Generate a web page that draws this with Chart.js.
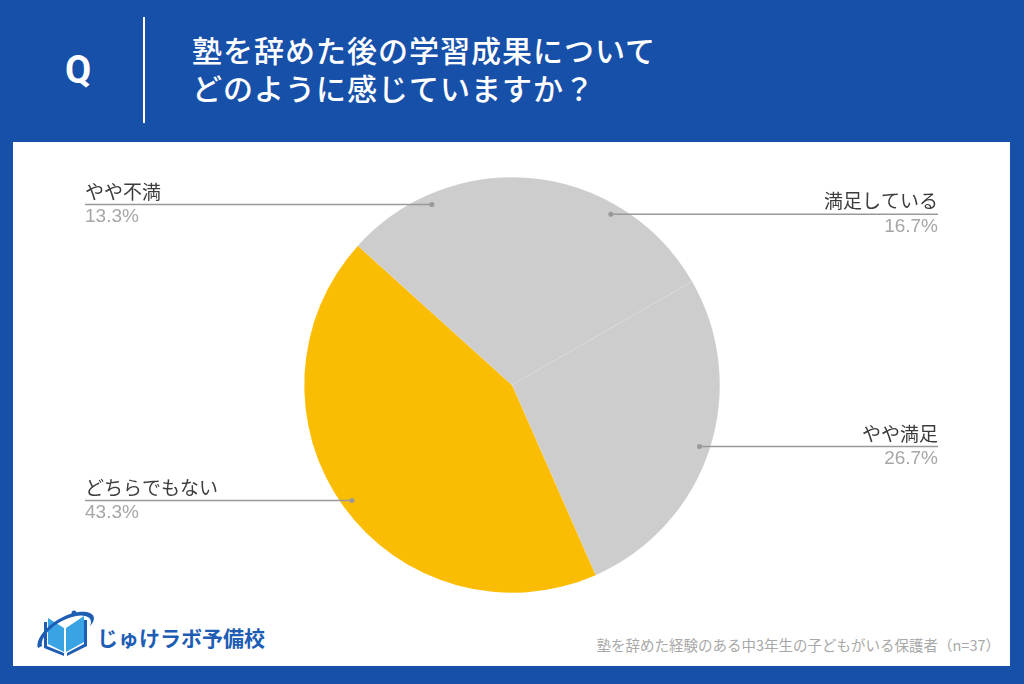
<!DOCTYPE html>
<html>
<head>
<meta charset="utf-8">
<script src="https://cdn.jsdelivr.net/npm/chart.js@4"></script>
<style>
  html, body { margin: 0; padding: 0; }
  body { width: 1024px; height: 684px; background: #1750a9; position: relative; overflow: hidden;
         font-family: "Noto Sans CJK JP", "Noto Sans", sans-serif; }
  .panel { position: absolute; left: 13px; top: 142px; width: 997px; height: 524px; background: #fff; }
  .q { position: absolute; left: 60px; top: 47px; width: 36px; text-align: center; color: #fff;
       font: bold 38px Roboto, sans-serif; line-height: 46px; }
  .sep { position: absolute; left: 143px; top: 17px; width: 2px; height: 106px; background: #fff; }
  .title { position: absolute; left: 192px; top: 30px; color: #fff; font-size: 30px; line-height: 38px;
           letter-spacing: 1px; font-weight: 500; }
  .logo { position: absolute; left: 34px; top: 608px; }
  .logo-text { position: absolute; left: 97px; top: 622px; color: #1d5db4; font-size: 21px; font-weight: bold; }
  .note { position: absolute; right: 24px; top: 634px; color: #a8a8a8; font-size: 14.5px; }
  #myChart { position: absolute; left: 0; top: 0; }
</style>
</head>
<body>
<div class="panel"></div>
<div class="q">Q</div>
<div class="sep"></div>
<div class="title">塾を辞めた後の学習成果について<br>どのように感じていますか？</div>
<svg class="logo" width="64" height="50" viewBox="0 0 64 50">
  <path d="M14 10 L30 20 L30 44 L14 36 Z" fill="#3aa3e3"/>
  <path d="M32 20 L50 8 L50 34 L32 44 Z" fill="#3aa3e3"/>
  <path d="M10 14 L10 40 L30 48 L30 45 L13 38 L13 14 Z" fill="#1d5db4"/>
  <path d="M53 12 L53 38 L33 48 L33 45 L50 36 L50 12 Z" fill="#1d5db4"/>
  <path d="M4 40 C 0 30, 20 8, 44 4 C 60 2, 64 10, 56 18 C 60 10, 52 6, 42 8 C 22 12, 6 28, 8 38 Z" fill="#1d5db4"/>
  <circle cx="40" cy="5" r="2.5" fill="#1d5db4"/>
</svg>
<div class="logo-text">じゅけラボ予備校</div>
<div class="note">塾を辞めた経験のある中3年生の子どもがいる保護者（n=37）</div>
<canvas id="myChart" width="1024" height="684"></canvas>
<script>
var labels = ["満足している", "やや満足", "どちらでもない", "やや不満"];
var values = [16.7, 26.7, 43.3, 13.3];
var percentLabels = ["16.7%", "26.7%", "43.3%", "13.3%"];
var sliceColors = ["#cdcdcd", "#cdcdcd", "#fbbc04", "#cdcdcd"];

// leader lines + labels, drawn next to each slice
var leaderLabels = {
    id: "leaderLabels",
    afterDraw: function(chart) {
        var ctx = chart.ctx;
        var arcs = chart.getDatasetMeta(0).data;
        ctx.save();
        for (var i = 0; i < arcs.length; i++) {
            var arc = arcs[i];
            var mid = (arc.startAngle + arc.endAngle) / 2;
            var r = arc.outerRadius * 0.95;
            var px = arc.x + Math.cos(mid) * r;
            var py = arc.y + Math.sin(mid) * r;
            var left = px < arc.x;
            var endX = left ? 85 : 938;

            ctx.strokeStyle = "#999999";
            ctx.lineWidth = 1.5;
            ctx.beginPath();
            ctx.moveTo(px, py);
            ctx.lineTo(endX, py);
            ctx.stroke();
            ctx.fillStyle = "#999999";
            ctx.beginPath();
            ctx.arc(px, py, 2.5, 0, Math.PI * 2);
            ctx.fill();

            ctx.textAlign = left ? "left" : "right";
            ctx.textBaseline = "alphabetic";
            ctx.fillStyle = "#3c3c3c";
            ctx.font = '19px "Noto Sans CJK JP"';
            ctx.fillText(labels[i], endX, py - 6);
            ctx.fillStyle = "#a6a6a6";
            ctx.font = '19px "Liberation Sans"';
            ctx.textBaseline = "top";
            ctx.fillText(percentLabels[i], endX, py + 3);
        }
        ctx.restore();
    }
};

new Chart(document.getElementById("myChart"), {
    type: "pie",
    data: {
        labels: labels,
        datasets: [{
            data: values,
            backgroundColor: sliceColors,
            borderColor: "rgba(255, 255, 255, 0.15)",
            borderWidth: 0.5,
            hoverOffset: 0
        }]
    },
    options: {
        responsive: false,
        animation: false,
        layout: {
            padding: { top: 177, bottom: 91, left: 304, right: 304 }
        },
        plugins: {
            legend: { display: false },
            tooltip: { enabled: false }
        }
    },
    plugins: [leaderLabels]
});
</script>
</body>
</html>
